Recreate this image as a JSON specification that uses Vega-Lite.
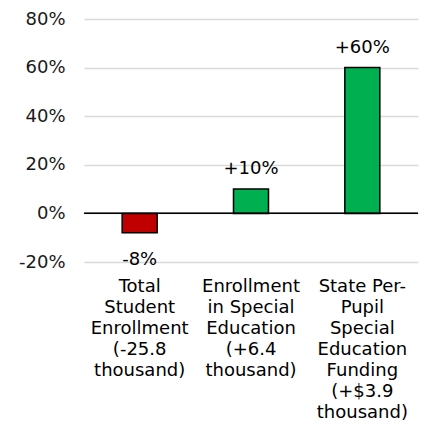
{
  "$schema": "https://vega.github.io/schema/vega-lite/v6.json",
  "autosize": {"type": "none"},
  "width": 334,
  "height": 243,
  "padding": {"left": 84, "top": 19, "right": 7, "bottom": 182},
  "background": "white",
  "config": {
    "view": {"stroke": null},
    "font": "DejaVu Sans",
    "text": {"font": "DejaVu Sans"}
  },
  "data": {
    "values": [
      {"category": "Total\nStudent\nEnrollment\n(-25.8\nthousand)", "value": -0.08, "label": "-8%", "sign": "neg"},
      {"category": "Enrollment\nin Special\nEducation\n(+6.4\nthousand)", "value": 0.10, "label": "+10%", "sign": "pos"},
      {"category": "State Per-\nPupil\nSpecial\nEducation\nFunding\n(+$3.9\nthousand)", "value": 0.60, "label": "+60%", "sign": "pos"}
    ]
  },
  "encoding": {
    "x": {
      "field": "category",
      "type": "nominal",
      "sort": null,
      "title": null,
      "scale": {"paddingInner": 0, "paddingOuter": 0},
      "axis": {
        "labelAngle": 0,
        "domain": false,
        "ticks": false,
        "labelExpr": "split(datum.label, '\\n')",
        "labelFont": "DejaVu Sans",
        "labelFontSize": 18,
        "labelLineHeight": 21,
        "labelColor": "#000000",
        "labelPadding": 15,
        "labelLimit": 200,
        "labelOverlap": false,
        "labelBound": false,
        "labelBaseline": "top"
      }
    },
    "y": {
      "field": "value",
      "type": "quantitative",
      "title": null,
      "scale": {"domain": [-0.2, 0.8], "nice": false, "zero": false},
      "axis": {
        "values": [-0.2, 0, 0.2, 0.4, 0.6, 0.8],
        "format": ".0%",
        "labelExpr": "replace(datum.label, '\u2212', '-')",
        "domain": false,
        "ticks": false,
        "grid": true,
        "gridColor": "#d9d9d9",
        "gridWidth": 1.3,
        "labelFont": "DejaVu Sans",
        "labelFontSize": 18,
        "labelColor": "#1a1a1a",
        "labelPadding": 19
      }
    }
  },
  "layer": [
    {
      "mark": {"type": "bar", "size": 35, "stroke": "#000000", "strokeWidth": 1.5},
      "encoding": {
        "color": {
          "field": "sign",
          "type": "nominal",
          "scale": {"domain": ["neg", "pos"], "range": ["#C00000", "#00B050"]},
          "legend": null
        }
      }
    },
    {
      "mark": {"type": "rule", "color": "#000000", "strokeWidth": 1.3},
      "encoding": {"y": {"datum": 0}, "x": {}}
    },
    {
      "transform": [{"filter": "datum.value >= 0"}],
      "mark": {"type": "text", "fontSize": 18, "baseline": "alphabetic", "dy": -15, "color": "#000000"},
      "encoding": {"text": {"field": "label"}}
    },
    {
      "transform": [{"filter": "datum.value < 0"}],
      "mark": {"type": "text", "fontSize": 18, "baseline": "alphabetic", "dy": 32, "color": "#000000"},
      "encoding": {"text": {"field": "label"}}
    }
  ]
}
